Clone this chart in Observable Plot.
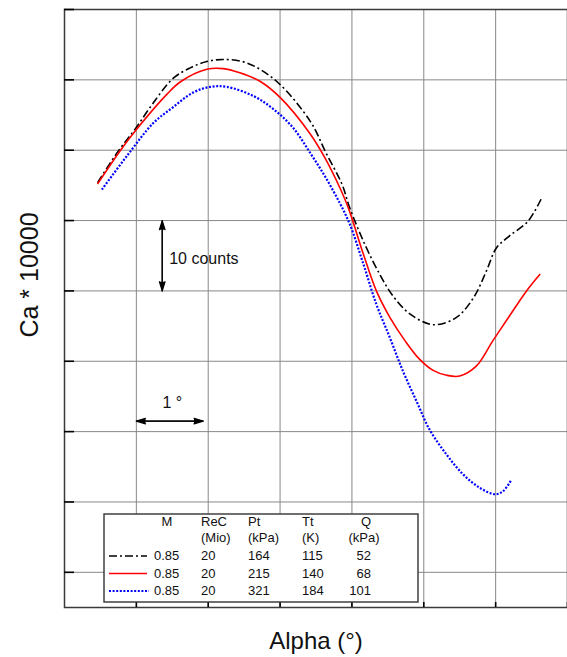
<!DOCTYPE html>
<html>
<head>
<meta charset="utf-8">
<script src="https://cdn.jsdelivr.net/npm/d3@7"></script>
<script src="https://cdn.jsdelivr.net/npm/@observablehq/plot@0.6"></script>
<style>
  html, body { margin: 0; padding: 0; background: #fff; }
  #chart { width: 567px; height: 657px; }
</style>
</head>
<body>
<div id="chart"></div>
<script>
const FONT = '"Liberation Sans", Arial, Helvetica, sans-serif';

// Grid positions: one degree per column, ten counts per row
const alphaTicks = [1, 2, 3, 4, 5, 6, 7];
const caTicks = [0, 10, 20, 30, 40, 50, 60, 70, 80];

// Run 1: Pt 164 kPa (dash-dot)
const alphaRun1 = [0.46, 0.75, 0.99, 1.22, 1.51, 1.75, 1.98, 2.21, 2.54, 2.95, 3.42, 3.64, 3.86, 3.97, 4.18, 4.39, 4.57, 4.81, 5.13, 5.45, 5.69, 5.87, 6.01, 6.19, 6.45, 6.64];
const caRun1 = [55.4, 59.9, 63.1, 66.5, 70.2, 71.7, 72.6, 72.9, 72.4, 69.8, 64.1, 59.6, 55.2, 51.8, 46.6, 42.3, 39.3, 36.7, 35.2, 36.2, 39.0, 42.8, 46.1, 47.8, 49.9, 53.2];

// Run 2: Pt 215 kPa (solid red)
const alphaRun2 = [0.46, 0.78, 0.99, 1.43, 1.61, 1.98, 2.21, 2.44, 2.72, 3.0, 3.42, 3.63, 3.83, 3.95, 4.16, 4.34, 4.53, 4.74, 4.94, 5.13, 5.32, 5.5, 5.73, 5.96, 6.19, 6.43, 6.62];
const caRun2 = [55.2, 60.0, 62.8, 68.0, 69.7, 71.5, 71.6, 71.0, 69.8, 67.5, 62.3, 58.8, 54.7, 51.8, 45.2, 40.0, 36.2, 32.9, 30.3, 28.7, 28.0, 27.9, 29.3, 32.9, 36.4, 40.0, 42.4];

// Run 3: Pt 321 kPa (dotted blue)
const alphaRun3 = [0.52, 0.87, 1.24, 1.51, 1.79, 2.03, 2.26, 2.63, 2.9, 3.18, 3.42, 3.63, 3.83, 3.97, 4.16, 4.34, 4.53, 4.71, 4.9, 5.08, 5.32, 5.55, 5.78, 5.99, 6.1, 6.21];
const caRun3 = [54.4, 59.2, 63.9, 66.1, 68.2, 69.0, 69.0, 67.7, 65.9, 63.2, 59.6, 56.2, 52.5, 49.5, 43.8, 38.1, 33.3, 28.6, 24.3, 20.3, 16.7, 13.9, 12.0, 11.1, 11.5, 13.0];

// Test conditions table
const tableHeads = ["M", "ReC", "Pt", "Tt", "Q"];
const tableUnits = ["", "(Mio)", "(kPa)", "(K)", "(kPa)"];
const machNumbers = [0.85, 0.85, 0.85];
const reynoldsMio = [20, 20, 20];
const totalPressure = [164, 215, 321];
const totalTemperature = [115, 140, 184];
const dynamicPressure = [52, 68, 101];

// Scale bars
const countsBar = {alpha: 1.36, from: 45, span: 10, label: "10 counts"};
const degreeBar = {ca: 21.5, from: 1, span: 0.93, label: "1 °"};

const styles = [
  {stroke: "#000000", strokeWidth: 1.6, strokeDasharray: "8,3,2,3"},
  {stroke: "#ff0000", strokeWidth: 1.6, strokeDasharray: null},
  {stroke: "#0000ff", strokeWidth: 2.2, strokeDasharray: "2,1.6"}
];

const toRows = (alpha, ca) => alpha.map((a, i) => ({alpha: a, ca: ca[i]}));
const runs = [toRows(alphaRun1, caRun1), toRows(alphaRun2, caRun2), toRows(alphaRun3, caRun3)];

const countsArrows = [
  {x: countsBar.alpha, y1: countsBar.from - countsBar.span / 2, y2: countsBar.from + countsBar.span / 2},
  {x: countsBar.alpha, y1: countsBar.from + countsBar.span / 2, y2: countsBar.from - countsBar.span / 2}
];
const degreeArrows = [
  {y: degreeBar.ca, x1: degreeBar.from, x2: degreeBar.from + degreeBar.span},
  {y: degreeBar.ca, x1: degreeBar.from + degreeBar.span, x2: degreeBar.from}
];

const plot = Plot.plot({
  width: 567,
  height: 657,
  marginLeft: 64,
  marginRight: 0,
  marginTop: 9,
  marginBottom: 50,
  x: {domain: [0, 7]},
  y: {domain: [-5, 80]},
  style: {fontFamily: FONT, background: "#fff", color: "#000"},
  marks: [
    Plot.gridX(alphaTicks, {stroke: "#888", strokeOpacity: 1, strokeWidth: 1}),
    Plot.gridY(caTicks, {stroke: "#888", strokeOpacity: 1, strokeWidth: 1}),
    Plot.frame({stroke: "#3a3a3a", strokeWidth: 1.5}),
    Plot.axisY(caTicks, {tickSize: -10, tickFormat: () => "", label: null, stroke: "#000", strokeWidth: 1.6}),
    Plot.axisX(alphaTicks, {tickSize: -5, tickFormat: () => "", label: null, stroke: "#000", strokeWidth: 1.6}),
    ...runs.map((rows, i) => Plot.line(rows, {x: "alpha", y: "ca", curve: "catmull-rom", strokeLinecap: "butt", strokeLinejoin: "round", ...styles[i]})),
    Plot.arrow(countsArrows, {x1: "x", x2: "x", y1: "y1", y2: "y2", stroke: "#000", fill: "#000", strokeWidth: 1.2, headLength: 12, headAngle: 34}),
    Plot.arrow(degreeArrows, {x1: "x1", x2: "x2", y1: "y", y2: "y", stroke: "#000", fill: "#000", strokeWidth: 1.2, headLength: 12, headAngle: 34}),
    Plot.text([countsBar], {x: "alpha", y: d => d.from - 0.5, text: "label", textAnchor: "start", dx: 7, fontSize: 16, fill: "#111"}),
    Plot.text([degreeBar], {x: d => d.from + 0.5, y: d => d.ca + 1.8, text: "label", lineAnchor: "bottom", fontSize: 16, fill: "#111"}),
    Plot.text(["Alpha (°)"], {text: d => d, frameAnchor: "bottom", dy: 41, lineAnchor: "bottom", fontSize: 24, fill: "#111"})
  ]
});

const svg = d3.select(plot);

// Vertical axis title
svg.append("text")
  .attr("transform", "translate(38,275) rotate(-90)")
  .attr("text-anchor", "middle")
  .attr("font-family", FONT)
  .attr("font-size", 25)
  .attr("fill", "#111")
  .text("Ca * 10000");

// Conditions table drawn over the lower-left of the frame
const table = svg.append("g")
  .attr("font-family", FONT)
  .attr("font-size", 13)
  .attr("fill", "#111");

table.append("rect")
  .attr("x", 104).attr("y", 514).attr("width", 314).attr("height", 88)
  .attr("fill", "#fff").attr("stroke", "#333").attr("stroke-width", 1.4);

const columns = [
  {x: 167, headAnchor: "middle", valueX: 154, valueAnchor: "start", values: machNumbers.map(d3.format(".2f"))},
  {x: 201, headAnchor: "start", valueX: 201, valueAnchor: "start", values: reynoldsMio.map(String)},
  {x: 248, headAnchor: "start", valueX: 248, valueAnchor: "start", values: totalPressure.map(String)},
  {x: 302, headAnchor: "start", valueX: 302, valueAnchor: "start", values: totalTemperature.map(String)},
  {x: 366, headAnchor: "middle", valueX: 371, valueAnchor: "end", values: dynamicPressure.map(String)}
];
const headY = 525.7, unitY = 542, rowY = [560, 577.5, 595];

columns.forEach((col, j) => {
  table.append("text").attr("x", col.x).attr("y", headY).attr("text-anchor", col.headAnchor).text(tableHeads[j]);
  if (tableUnits[j]) {
    table.append("text").attr("x", j === 4 ? 364 : col.x).attr("y", unitY).attr("text-anchor", col.headAnchor).text(tableUnits[j]);
  }
  col.values.forEach((v, i) => {
    table.append("text").attr("x", col.valueX).attr("y", rowY[i]).attr("text-anchor", col.valueAnchor).text(v);
  });
});

rowY.forEach((y, i) => {
  const s = styles[i];
  table.append("line")
    .attr("x1", 109).attr("x2", i === 2 ? 149 : 147)
    .attr("y1", y - 4).attr("y2", y - 4)
    .attr("stroke", s.stroke)
    .attr("stroke-width", s.strokeWidth)
    .attr("stroke-dasharray", s.strokeDasharray);
});

document.getElementById("chart").appendChild(plot);
</script>
</body>
</html>
